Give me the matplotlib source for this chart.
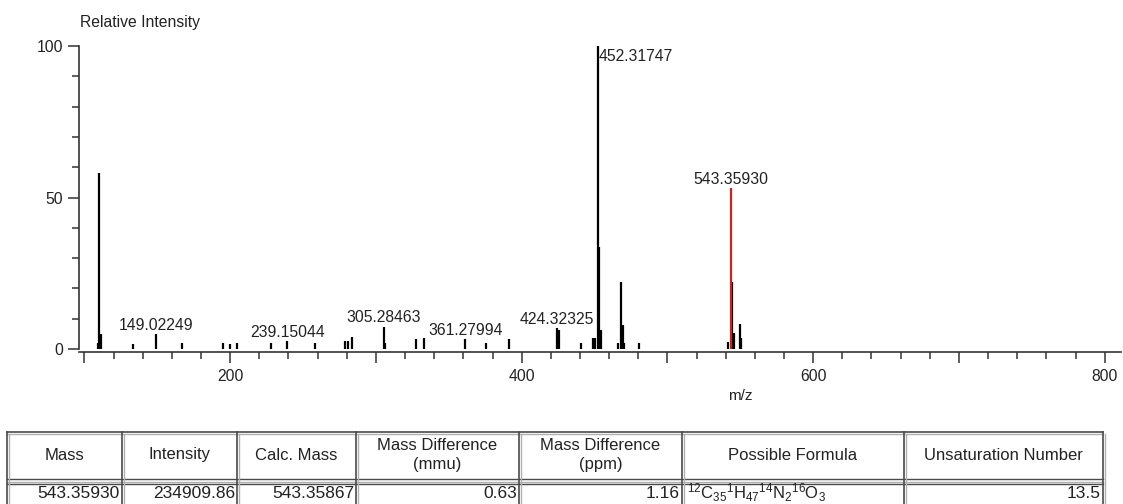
import numpy as np
import matplotlib.pyplot as plt
from matplotlib.ticker import MultipleLocator, FixedLocator

plt.rcParams['font.family'] = ['Liberation Sans', 'DejaVu Sans']
plt.rcParams['mathtext.default'] = 'regular'

# peak list (m/z, relative intensity)
mz = [109.0, 110.1, 111.1, 133.1, 149.02249, 166.7, 194.8, 199.6, 205.0,
      228.2, 239.15044, 258.4, 279.1, 281.0, 283.3, 305.28463, 306.3,
      327.4, 332.9, 361.27994, 375.4, 391.4, 424.32325, 425.3, 440.5,
      449.2, 450.4, 452.31747, 453.4, 454.4, 466.4, 468.3, 469.3, 470.4,
      480.5, 541.3, 544.3, 545.4, 549.5, 550.4]
intensity = [2.0, 58.0, 5.0, 1.6, 4.8, 1.9, 2.0, 1.6, 2.0,
             2.1, 2.7, 2.1, 2.5, 2.8, 4.0, 7.4, 2.0,
             3.2, 3.5, 3.2, 2.1, 3.3, 6.9, 6.3, 1.9,
             3.5, 3.5, 100.0, 33.5, 6.3, 2.1, 22.0, 7.9, 1.9,
             2.1, 2.4, 22.2, 5.3, 8.3, 3.5]

# highlighted molecular ion
ion_mz = 543.35930
ion_int = 53.0

# annotated peaks
label_mz = [149.02249, 239.15044, 305.28463, 361.27994, 424.32325]
label_int = [4.8, 2.7, 7.4, 3.2, 6.9]
base_mz = 452.31747
base_int = 100.0

# table
headers = ["Mass", "Intensity", "Calc. Mass", "Mass Difference\n(mmu)",
           "Mass Difference\n(ppm)", "Possible Formula", "Unsaturation Number"]
row = ["543.35930", "234909.86", "543.35867", "0.63", "1.16",
       r"$^{12}$C$_{35}$$^{1}$H$_{47}$$^{14}$N$_{2}$$^{16}$O$_{3}$", "13.5"]

W, H = 1123, 504
fig = plt.figure(figsize=(W/100, H/100), dpi=100)
txt = '#222222'
axc = '#333333'

ax = fig.add_axes([79/W, 1-349/H, (1121-79)/W, (349-46)/H])
ax.vlines(mz, 0, intensity, color='black', lw=1.6)
ax.vlines([ion_mz], 0, [ion_int], color='#cc2222', lw=1.6)

fs = 11.3
for m, h in zip(label_mz, label_int):
    ax.text(m, h + 1.4, "%.5f" % m, ha='center', va='baseline', fontsize=fs, color=txt)
ax.text(ion_mz, ion_int + 1.6, "%.5f" % ion_mz, ha='center', va='baseline', fontsize=fs, color=txt)
ax.text(base_mz + 0.3, 95.1, "%.5f" % base_mz, ha='left', va='baseline', fontsize=fs, color=txt)

ax.set_xlim(96.3, 811.2)
ax.set_ylim(0, 100)
for s in ['top', 'right']:
    ax.spines[s].set_visible(False)
ax.spines['bottom'].set_position(('outward', 2.2))
for s in ['left', 'bottom']:
    ax.spines[s].set_color(axc)
    ax.spines[s].set_linewidth(1.2)

ax.xaxis.set_major_locator(FixedLocator([100, 200, 300, 400, 500, 600, 700, 800]))
ax.set_xticklabels(['', '200', '', '400', '', '600', '', '800'])
ax.xaxis.set_minor_locator(MultipleLocator(20))
ax.yaxis.set_major_locator(FixedLocator([0, 50, 100]))
ax.yaxis.set_minor_locator(MultipleLocator(10))
ax.tick_params(which='major', length=8, width=1.1, color=axc, labelsize=fs, labelcolor=txt, pad=4)
ax.tick_params(which='minor', length=5, width=1.1, color=axc)
ax.tick_params(axis='y', which='major', pad=3.5)

fig.text(80/W, 1-22/H, "Relative Intensity", ha='left', va='center', fontsize=fs, color=txt)
fig.text(740/W, 1-396/H, "m/z", ha='center', va='center', fontsize=11, color=txt)

# table drawn in pixel coordinates
tb = fig.add_axes([0, 0, 1, 1])
tb.set_xlim(0, W)
tb.set_ylim(H, 0)
tb.axis('off')
cols = [7, 122, 237, 356, 519, 682, 904, 1103]
top, sep, bot = 432, 479, 510
dark, light = '#4a4a4a', '#b0b0b0'
tb.plot([cols[0], cols[-1]], [top, top], color=dark, lw=1.2)
tb.plot([cols[0], cols[-1]], [top+2, top+2], color=light, lw=1.0)
tb.plot([cols[0], cols[-1]], [sep, sep], color=dark, lw=1.0)
tb.plot([cols[0], cols[-1]], [sep+2.5, sep+2.5], color=light, lw=1.0)
tb.plot([cols[0], cols[-1]], [sep+4.5, sep+4.5], color=dark, lw=1.0)
for c in cols:
    tb.plot([c, c], [top, bot], color=dark, lw=1.2)
    tb.plot([c+2, c+2], [top+2, bot], color=light, lw=1.0)

for i, hd in enumerate(headers):
    cx = (cols[i] + cols[i+1]) / 2
    tb.text(cx, 455, hd, ha='center', va='center', fontsize=12, color=txt, linespacing=1.25)
for i, v in enumerate(row):
    if i == 5:
        tb.text(cols[i] + 5, 493, v, ha='left', va='center', fontsize=12, color=txt)
    else:
        tb.text(cols[i+1] - 2, 494, v, ha='right', va='center', fontsize=12.5, color=txt)

fig.savefig('out.png', dpi=100)
